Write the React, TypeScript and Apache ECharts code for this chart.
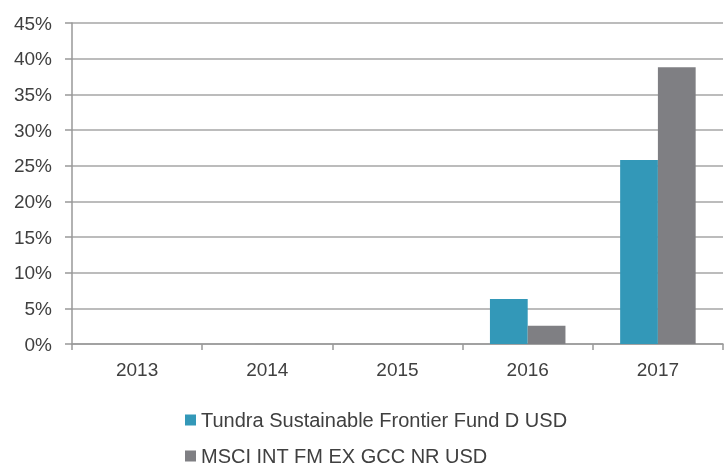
import React, { useEffect, useRef } from "react";
import * as echarts from "echarts";

const categories = ["2013", "2014", "2015", "2016", "2017"];
const tundra = [null, null, null, 6.3, 25.8];
const msci = [null, null, null, 2.55, 38.8];
const seriesNames = ["Tundra Sustainable Frontier Fund D USD", "MSCI INT FM EX GCC NR USD"];
const colors = ["#3398b8", "#7f7f83"];

export default function App() {
  const ref = useRef<HTMLDivElement>(null);
  useEffect(() => {
    const chart = echarts.init(ref.current!, null, { renderer: "svg" });
    const font = "'Liberation Sans', Arial, sans-serif";
    const legendBase = {
      orient: "horizontal",
      left: 185,
      padding: 0,
      itemWidth: 11,
      itemHeight: 11,
      icon: "rect",
      textStyle: { fontSize: 20, color: "#404040", fontFamily: font },
    };
    chart.setOption({
      animation: false,
      textStyle: { fontFamily: font },
      grid: { left: 72, right: 1, top: 23, bottom: 123 },
      legend: [
        { ...legendBase, top: 410, data: [seriesNames[0]] },
        { ...legendBase, top: 446, data: [seriesNames[1]] },
      ],
      xAxis: {
        type: "category",
        data: categories,
        axisLine: { lineStyle: { color: "#999", width: 1.5 } },
        axisTick: { show: true, length: 6, lineStyle: { color: "#999", width: 1.5 } },
        axisLabel: { fontSize: 19, color: "#404040", margin: 16, fontFamily: font },
      },
      yAxis: {
        type: "value",
        min: 0,
        max: 45,
        interval: 5,
        axisLine: { show: true, lineStyle: { color: "#999", width: 1.5 } },
        axisTick: { show: true, length: 7, lineStyle: { color: "#999", width: 1.5 } },
        splitLine: { lineStyle: { color: "#a6a6a6", width: 1.5 } },
        axisLabel: { fontSize: 19, color: "#404040", margin: 20, formatter: "{value}%", fontFamily: font },
      },
      series: [
        {
          name: seriesNames[0],
          type: "bar",
          data: tundra,
          itemStyle: { color: colors[0] },
          barGap: "0%",
          barCategoryGap: "42%",
        },
        {
          name: seriesNames[1],
          type: "bar",
          data: msci,
          itemStyle: { color: colors[1] },
          barGap: "0%",
          barCategoryGap: "42%",
        },
      ],
    });
    return () => chart.dispose();
  }, []);
  return <div ref={ref} style={{ position: "fixed", left: 0, top: 0, width: 724, height: 467 }} />;
}
